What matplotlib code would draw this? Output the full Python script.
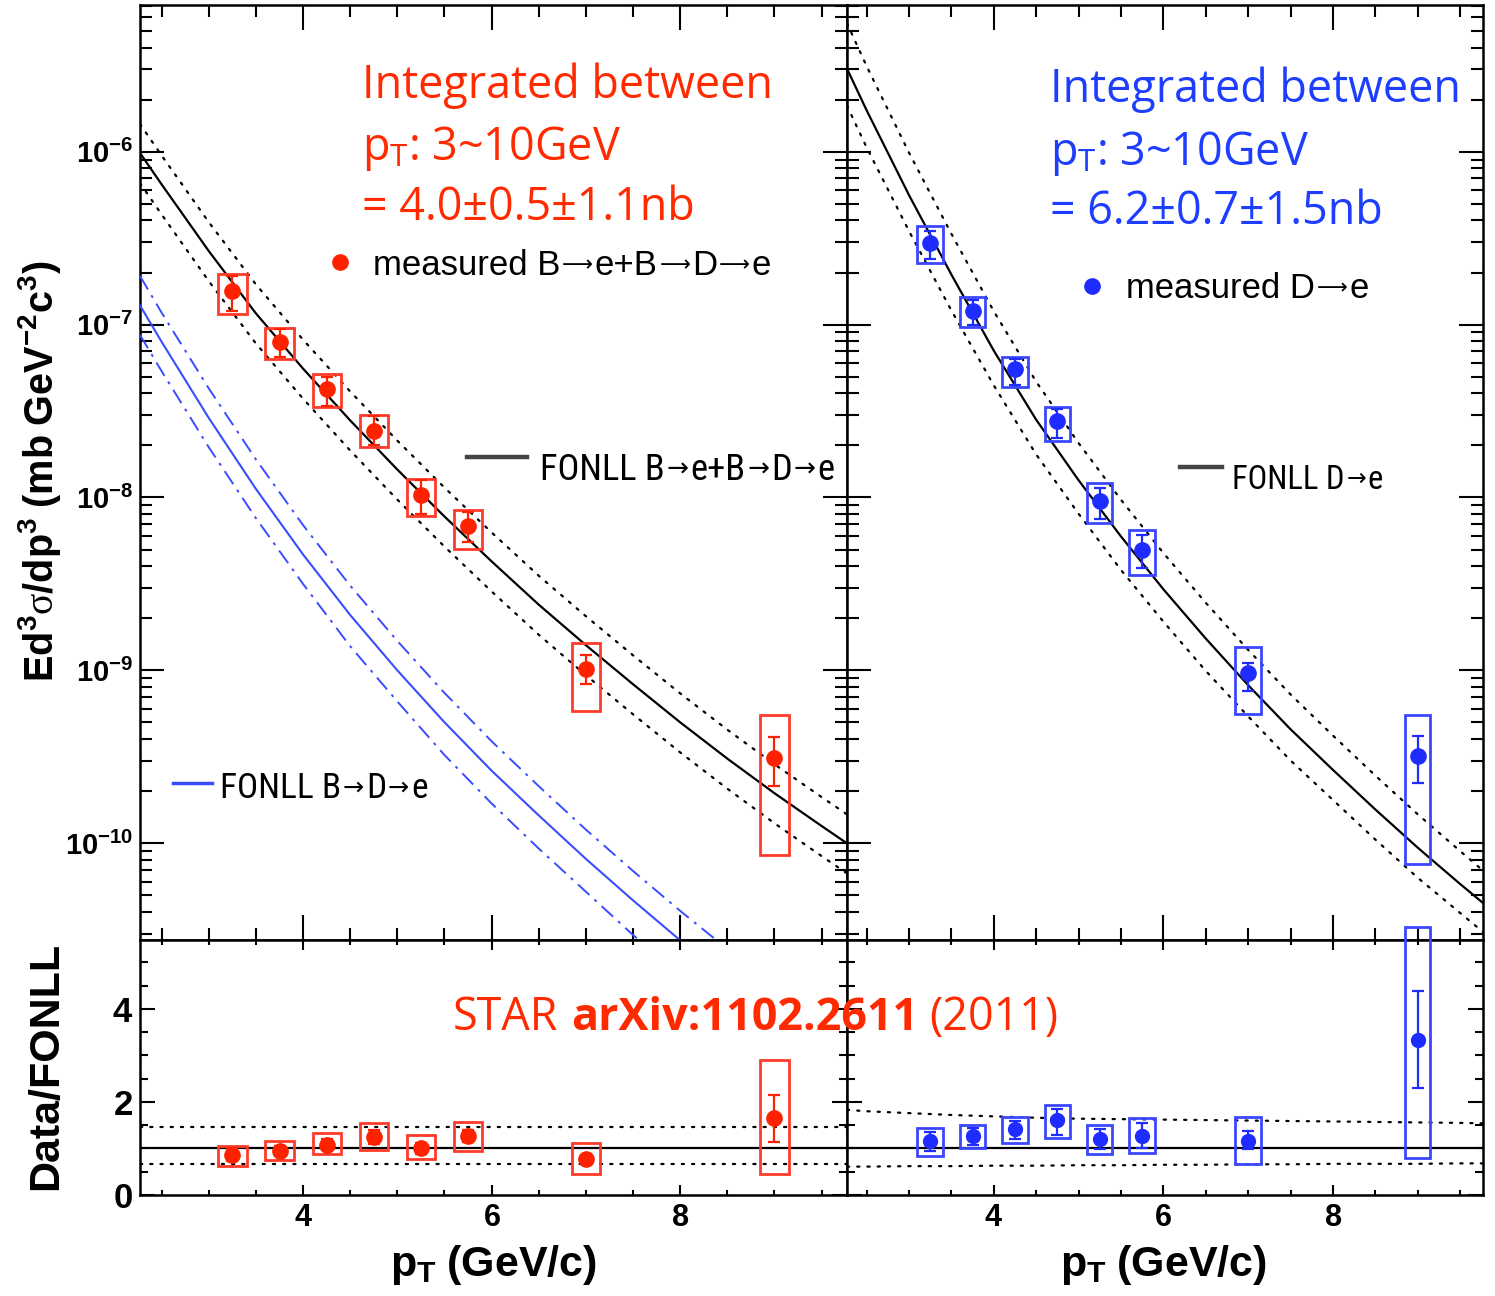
import matplotlib
matplotlib.use("Agg")
import matplotlib.pyplot as plt
from matplotlib import font_manager as fm
from matplotlib.patches import Rectangle
from matplotlib.lines import Line2D
from matplotlib.ticker import MultipleLocator, LogLocator, FixedLocator, FuncFormatter, NullFormatter
import numpy as np

plt.rcParams['mathtext.fontset'] = 'custom'
plt.rcParams['mathtext.bf'] = 'Liberation Sans:bold'
plt.rcParams['mathtext.rm'] = 'Liberation Serif'
plt.rcParams['mathtext.it'] = 'Liberation Serif:italic'
plt.rcParams['mathtext.sf'] = 'Open Sans'

# ---------------- data ----------------
pt = [3.25, 3.75, 4.25, 4.75, 5.25, 5.75, 7.0, 9.0]
box_half = 0.15

# B->e + B->D->e
be_y       = [1.56e-7, 7.9e-8, 4.23e-8, 2.43e-8, 1.03e-8, 6.84e-9, 1.02e-9, 3.1e-10]
be_stat_hi = [1.90e-7, 9.4e-8, 5.0e-8, 2.95e-8, 1.27e-8, 8.2e-9, 1.22e-9, 4.1e-10]
be_stat_lo = [1.20e-7, 6.5e-8, 3.4e-8, 2.0e-8, 8.0e-9, 5.5e-9, 8.3e-10, 2.15e-10]
be_sys_hi  = [1.96e-7, 9.6e-8, 5.18e-8, 3.0e-8, 1.28e-8, 8.5e-9, 1.44e-9, 5.5e-10]
be_sys_lo  = [1.15e-7, 6.3e-8, 3.35e-8, 1.96e-8, 7.8e-9, 5.06e-9, 5.8e-10, 8.6e-11]

# D->e
de_y       = [2.98e-7, 1.2e-7, 5.5e-8, 2.78e-8, 9.6e-9, 4.98e-9, 9.6e-10, 3.21e-10]
de_stat_hi = [3.5e-7, 1.38e-7, 6.3e-8, 3.25e-8, 1.14e-8, 6.1e-9, 1.1e-9, 4.2e-10]
de_stat_lo = [2.4e-7, 1.0e-7, 4.5e-8, 2.2e-8, 7.5e-9, 3.9e-9, 7.6e-10, 2.23e-10]
de_sys_hi  = [3.72e-7, 1.45e-7, 6.47e-8, 3.32e-8, 1.21e-8, 6.52e-9, 1.36e-9, 5.55e-10]
de_sys_lo  = [2.27e-7, 9.7e-8, 4.34e-8, 2.12e-8, 7.08e-9, 3.56e-9, 5.6e-10, 7.6e-11]

# Data / FONLL
be_ratio         = [0.86, 0.95, 1.08, 1.25, 1.00, 1.27, 0.78, 1.65]
be_ratio_stat_hi = [0.98, 1.06, 1.20, 1.40, 1.12, 1.40, 0.86, 2.15]
be_ratio_stat_lo = [0.74, 0.84, 0.96, 1.10, 0.88, 1.14, 0.70, 1.13]
be_ratio_sys_hi  = [1.06, 1.16, 1.34, 1.54, 1.28, 1.57, 1.11, 2.90]
be_ratio_sys_lo  = [0.62, 0.75, 0.88, 0.97, 0.78, 0.95, 0.45, 0.45]

de_ratio         = [1.15, 1.27, 1.41, 1.61, 1.20, 1.27, 1.17, 3.33]
de_ratio_stat_hi = [1.36, 1.45, 1.58, 1.85, 1.42, 1.55, 1.37, 4.39]
de_ratio_stat_lo = [0.95, 1.08, 1.20, 1.30, 0.98, 1.00, 0.98, 2.29]
de_ratio_sys_hi  = [1.43, 1.50, 1.68, 1.93, 1.50, 1.66, 1.68, 5.76]
de_ratio_sys_lo  = [0.84, 1.02, 1.11, 1.23, 0.88, 0.90, 0.67, 0.79]

# FONLL curves
pt_curve = [2.27, 2.5, 3.0, 3.5, 4.0, 4.5, 5.0, 5.5, 6.0, 6.5, 7.0, 7.5, 8.0, 8.5, 9.0, 9.5, 9.77]
fonll_bde_total = [9.82e-7, 6.46e-7, 2.66e-7, 1.16e-7, 5.56e-8, 2.79e-8, 1.45e-8, 7.76e-9, 4.27e-9,
                   2.40e-9, 1.40e-9, 8.32e-10, 5.01e-10, 3.09e-10, 1.95e-10, 1.26e-10, 1.0e-10]
fonll_bde_band_hi = 1.47
fonll_bde_band_lo = 0.67
fonll_bde = [1.29e-7, 7.94e-8, 2.88e-8, 1.12e-8, 4.68e-9, 2.09e-9, 1.0e-9, 5.01e-10, 2.63e-10,
             1.45e-10, 8.13e-11, 4.68e-11, 2.75e-11, 1.66e-11, 1.0e-11, 6.17e-12, 4.79e-12]
fonll_bde_hi = [1.91e-7, 1.17e-7, 4.27e-8, 1.66e-8, 6.92e-9, 3.09e-9, 1.48e-9, 7.41e-10, 3.89e-10,
                2.14e-10, 1.20e-10, 6.92e-11, 4.07e-11, 2.45e-11, 1.48e-11, 9.12e-12, 7.08e-12]
fonll_bde_lo = [8.71e-8, 5.37e-8, 1.95e-8, 7.59e-9, 3.16e-9, 1.38e-9, 6.61e-10, 3.24e-10, 1.70e-10,
                9.33e-11, 5.25e-11, 2.95e-11, 1.74e-11, 1.05e-11, 6.31e-12, 3.89e-12, 3.02e-12]
fonll_de = [3.02e-6, 1.74e-6, 5.62e-7, 1.95e-7, 7.08e-8, 2.82e-8, 1.26e-8, 5.96e-9, 2.95e-9,
            1.53e-9, 8.22e-10, 4.57e-10, 2.66e-10, 1.57e-10, 9.44e-11, 5.82e-11, 4.52e-11]
fonll_de_band_hi = [1.83, 1.80, 1.76, 1.72, 1.69, 1.66, 1.64, 1.63, 1.62, 1.61, 1.60, 1.59, 1.58,
                    1.57, 1.56, 1.55, 1.54]
fonll_de_band_lo = [0.61, 0.61, 0.62, 0.62, 0.63, 0.63, 0.64, 0.64, 0.65, 0.65, 0.66, 0.66, 0.67,
                    0.67, 0.67, 0.68, 0.68]

decade_ticks = [1e-10, 1e-9, 1e-8, 1e-7, 1e-6]
ratio_ticks = [0, 2, 4]
pt_ticks = [4, 6, 8]

# ---------------- style ----------------
W, H = 1495, 1296
RED = '#ff2200'
RED_BOX = '#ff3a2a'
RED_TXT = '#ff2a00'
BLUE = '#1f2cff'
BLUE_BOX = '#3a46ff'
BLUE_TXT = '#1d3dff'
BLUE_LINE = '#3a4cff'
DOT = (0, (1, 3.6))
DASHDOT = (0, (8, 3.5, 1.5, 3.5))
SANS = ['Liberation Sans', 'DejaVu Sans']
ANNOT = ['Open Sans', 'DejaVu Sans']


def pick_narrow():
    """The most condensed regular sans face that is installed."""
    entries = [f for f in fm.fontManager.ttflist
               if f.style == 'normal' and f.weight in (400, 'normal', 'regular')
               and 'Mono' not in f.name and 'Serif' not in f.name]
    for wanted in ('Liberation Sans Narrow', 'Arial Narrow', 'Roboto Condensed'):
        for f in entries:
            if f.name == wanted:
                return fm.FontProperties(fname=f.fname)
    for stretch in ('extra-condensed', 'condensed', 'semi-condensed'):
        for f in entries:
            if str(f.stretch) == stretch and 'Sans' in f.name:
                return fm.FontProperties(fname=f.fname)
    return fm.FontProperties(family='Liberation Sans')


FP_SANS = fm.FontProperties(family='Liberation Sans')
FP_ARROW = fm.FontProperties(family='DejaVu Sans')
FP_NARROW = pick_narrow()


def fx(x):
    return x / W


def fy(y):
    return 1 - y / H


fig = plt.figure(figsize=(W / 100, H / 100), dpi=100)
renderer = fig.canvas.get_renderer()
xl, xm, xr = fx(140), fx(847), fx(1483)
yt, ym, yb = fy(5), fy(940), fy(1195)
ax_tl = fig.add_axes([xl, ym, xm - xl, yt - ym])
ax_tr = fig.add_axes([xm, ym, xr - xm, yt - ym])
ax_bl = fig.add_axes([xl, yb, xm - xl, ym - yb])
ax_br = fig.add_axes([xm, yb, xr - xm, ym - yb])

XLIM = (2.27, 9.77)


def frame(ax, maj, mnr, ymaj, ymnr):
    ax.set_xlim(*XLIM)
    ax.xaxis.set_major_locator(FixedLocator(pt_ticks))
    ax.xaxis.set_minor_locator(MultipleLocator(0.5))
    ax.tick_params(which='both', direction='in', top=True, right=True, width=1.5, colors='black')
    ax.tick_params(axis='x', which='major', length=maj)
    ax.tick_params(axis='x', which='minor', length=mnr)
    ax.tick_params(axis='y', which='major', length=ymaj)
    ax.tick_params(axis='y', which='minor', length=ymnr)
    for s in ax.spines.values():
        s.set_linewidth(1.8)


def log_label(v, pos):
    e = int(round(np.log10(v)))
    return r'$\mathbf{10^{%d}}$' % e


for ax in (ax_tl, ax_tr):
    ax.set_yscale('log')
    ax.set_ylim(2.76e-11, 7.05e-6)
    frame(ax, 18, 8.5, 17, 8.5)
    ax.yaxis.set_major_locator(FixedLocator(decade_ticks))
    ax.yaxis.set_minor_locator(LogLocator(base=10, subs=np.arange(2, 10), numticks=30))
    ax.yaxis.set_minor_formatter(NullFormatter())
    ax.tick_params(labelbottom=False)

ax_tl.yaxis.set_major_formatter(FuncFormatter(log_label))
ax_tl.tick_params(axis='y', labelsize=21, pad=5)
ax_tr.tick_params(labelleft=False)

for ax in (ax_bl, ax_br):
    ax.set_ylim(0, 5.48)
    frame(ax, 7, 3.6, 11, 6)
    ax.yaxis.set_major_locator(FixedLocator(ratio_ticks))
    ax.yaxis.set_minor_locator(MultipleLocator(0.5))
    ax.xaxis.set_major_formatter(FuncFormatter(lambda v, p: r'$\mathbf{%d}$' % v))
    ax.tick_params(axis='x', labelsize=22, pad=6)

ax_bl.yaxis.set_major_formatter(FuncFormatter(lambda v, p: r'$\mathbf{%d}$' % v))
ax_bl.tick_params(axis='y', labelsize=25, pad=5)
ax_br.tick_params(labelleft=False)


def draw_points(ax, x, y, shi, slo, bhi, blo, pc, bc, ms=11):
    for xi, h, l in zip(x, bhi, blo):
        ax.add_patch(Rectangle((xi - box_half, l), 2 * box_half, h - l, fill=False,
                               edgecolor=bc, linewidth=2, clip_on=False, zorder=4))
    yerr = [np.array(y) - np.array(slo), np.array(shi) - np.array(y)]
    ax.errorbar(x, y, yerr=yerr, fmt='o', color=pc, ms=ms, elinewidth=1.6,
                capsize=4, capthick=1.6, zorder=5, clip_on=False)


# ---------------- top left: B->e + B->D->e ----------------
pc = np.array(pt_curve)
tot = np.array(fonll_bde_total)
ax_tl.plot(pc, tot, color='black', lw=1.6, zorder=3)
ax_tl.plot(pc, tot * fonll_bde_band_hi, color='black', lw=1.6, ls=DOT, dash_capstyle='round', zorder=3)
ax_tl.plot(pc, tot * fonll_bde_band_lo, color='black', lw=1.6, ls=DOT, dash_capstyle='round', zorder=3)
ax_tl.plot(pc, fonll_bde, color=BLUE_LINE, lw=1.5, zorder=3)
ax_tl.plot(pc, fonll_bde_hi, color=BLUE_LINE, lw=1.4, ls=DASHDOT, zorder=3)
ax_tl.plot(pc, fonll_bde_lo, color=BLUE_LINE, lw=1.4, ls=DASHDOT, zorder=3)
draw_points(ax_tl, pt, be_y, be_stat_hi, be_stat_lo, be_sys_hi, be_sys_lo, RED, RED_BOX)

# ---------------- top right: D->e ----------------
dcur = np.array(fonll_de)
ax_tr.plot(pc, dcur, color='black', lw=1.6, zorder=3)
ax_tr.plot(pc, dcur * np.array(fonll_de_band_hi), color='black', lw=1.6, ls=DOT, dash_capstyle='round', zorder=3)
ax_tr.plot(pc, dcur * np.array(fonll_de_band_lo), color='black', lw=1.6, ls=DOT, dash_capstyle='round', zorder=3)
draw_points(ax_tr, pt, de_y, de_stat_hi, de_stat_lo, de_sys_hi, de_sys_lo, BLUE, BLUE_BOX)

# ---------------- ratio panels ----------------
ax_bl.axhline(1.0, color='black', lw=1.6, zorder=2)
ax_bl.axhline(fonll_bde_band_hi, color='black', lw=1.6, ls=DOT, dash_capstyle='round', zorder=2)
ax_bl.axhline(fonll_bde_band_lo, color='black', lw=1.6, ls=DOT, dash_capstyle='round', zorder=2)
draw_points(ax_bl, pt, be_ratio, be_ratio_stat_hi, be_ratio_stat_lo,
            be_ratio_sys_hi, be_ratio_sys_lo, RED, RED_BOX)

ax_br.axhline(1.0, color='black', lw=1.6, zorder=2)
ax_br.plot(pc, fonll_de_band_hi, color='black', lw=1.6, ls=DOT, dash_capstyle='round', zorder=2)
ax_br.plot(pc, fonll_de_band_lo, color='black', lw=1.6, ls=DOT, dash_capstyle='round', zorder=2)
draw_points(ax_br, pt, de_ratio, de_ratio_stat_hi, de_ratio_stat_lo,
            de_ratio_sys_hi, de_ratio_sys_lo, BLUE, BLUE_BOX, ms=10)

# ---------------- axis titles ----------------
fig.text(fx(40), fy(471),
         r'$\mathbf{Ed^{3}}\mathrm{\sigma}\mathbf{/dp^{3}\ (mb\ GeV^{-2}c^{3})}$',
         rotation=90, ha='center', va='center', fontsize=28.5)
fig.text(fx(46), fy(1066), 'Data/FONLL', rotation=90, ha='center', va='center',
         fontsize=31, fontweight='bold', family=SANS)
for cx in (494, 1164):
    fig.text(fx(cx), fy(1276), r'$\mathbf{p_{T}\ (GeV/c)}$', ha='center', va='baseline', fontsize=31)

# ---------------- annotations ----------------
for x0, (b1, b2, b3), col, val in ((362, (98, 160, 220), RED_TXT, '= 4.0\u00b10.5\u00b11.1nb'),
                                     (1050, (102, 165, 224), BLUE_TXT, '= 6.2\u00b10.7\u00b11.5nb')):
    fig.text(fx(x0), fy(b1), 'Integrated between', color=col, fontsize=32.3, family=ANNOT, va='baseline')
    fig.text(fx(x0), fy(b2), r'p$_{\mathsf{T}}$: 3~10GeV', color=col, fontsize=32.3, family=ANNOT, va='baseline')
    fig.text(fx(x0), fy(b3), val, color=col, fontsize=32.3, family=ANNOT, va='baseline')


def runs_for(label, fp_text, arrow, arrow_scale, arrow_rise):
    """Split a label at the arrows so arrows can use a face that has a full-size glyph."""
    out = []
    parts = label.split('\u2192')
    for i, p in enumerate(parts):
        if p:
            out.append((p, fp_text, 1.0, 0.0))
        if i < len(parts) - 1:
            out.append((arrow, FP_ARROW, arrow_scale, arrow_rise))
    return out


def place_runs(x_px, base_px, runs, size):
    texts = []
    x = x_px
    gap = 0.05 * size * 100 / 72
    for txt, fp, sc, rise in runs:
        p = fp.copy()
        p.set_size(size * sc)
        t = fig.text(x / W, fy(base_px - rise * size * 100 / 72), txt, fontproperties=p,
                     color='black', va='baseline', ha='left')
        bb = t.get_window_extent(renderer)
        x = bb.x1 + gap
        texts.append(t)
    return texts, x - gap - x_px


def fitted_label(x_px, x_end, base_px, label, fp_text, size0, arrow, arrow_scale, arrow_rise):
    runs = runs_for(label, fp_text, arrow, arrow_scale, arrow_rise)
    texts, width = place_runs(x_px, base_px, runs, size0)
    for t in texts:
        t.remove()
    place_runs(x_px, base_px, runs, size0 * (x_end - x_px) / width)


# measured-data legend entries
fig.add_artist(Line2D([fx(340)], [fy(262)], marker='o', ms=11, color=RED, transform=fig.transFigure))
fitted_label(373, 770, 275, 'measured B\u2192e+B\u2192D\u2192e', FP_SANS, 22, '\u27f6', 0.62, 0.1)
fig.add_artist(Line2D([fx(1092)], [fy(286)], marker='o', ms=11, color=BLUE, transform=fig.transFigure))
fitted_label(1126, 1367, 298, 'measured D\u2192e', FP_SANS, 22, '\u27f6', 0.62, 0.1)

# FONLL legend entries
fig.add_artist(Line2D([fx(467), fx(527)], [fy(457), fy(457)], lw=3.2, color='#444444', transform=fig.transFigure))
fitted_label(540, 835, 480, 'FONLL B\u2192e+B\u2192D\u2192e', FP_NARROW, 28, '\u2192', 0.72, 0.1)
fig.add_artist(Line2D([fx(173), fx(212)], [fy(783), fy(783)], lw=2.5, color=BLUE_LINE, transform=fig.transFigure))
fitted_label(220, 427, 798, 'FONLL B\u2192D\u2192e', FP_NARROW, 26, '\u2192', 0.72, 0.1)
fig.add_artist(Line2D([fx(1180), fx(1222)], [fy(467), fy(467)], lw=3.2, color='#444444', transform=fig.transFigure))
fitted_label(1232, 1383, 489, 'FONLL D\u2192e', FP_NARROW, 28, '\u2192', 0.72, 0.1)

# reference line
yb_star = fy(1030)
t1 = fig.text(fx(453), yb_star, 'STAR', color=RED_TXT, fontsize=32.3, family=ANNOT, va='baseline')
x1 = t1.get_window_extent(renderer).x1 + 13
t2 = fig.text(x1 / W, yb_star, 'arXiv:1102.2611', color=RED_TXT, fontsize=32.3, family=ANNOT,
              fontweight='bold', va='baseline')
x2 = t2.get_window_extent(renderer).x1 + 11
fig.text(x2 / W, yb_star, '(2011)', color=RED_TXT, fontsize=32.3, family=ANNOT, va='baseline')

fig.savefig('out.png', dpi=100)
